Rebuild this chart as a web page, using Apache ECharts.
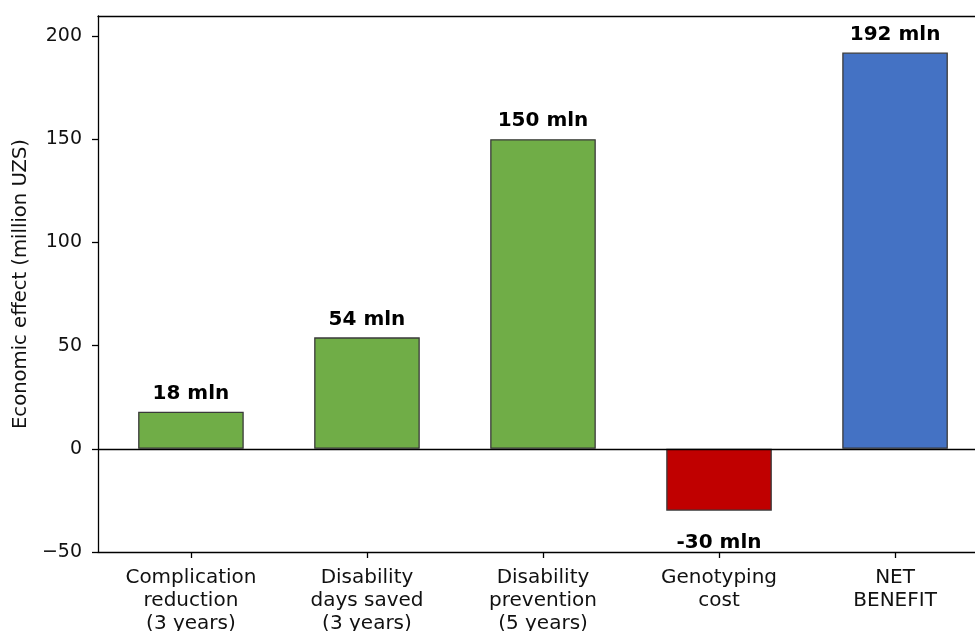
<!DOCTYPE html>
<html>
<head>
<meta charset="utf-8">
<title>Economic effect</title>
<script src="https://cdn.jsdelivr.net/npm/echarts@6/dist/echarts.min.js"></script>
<style>
    html, body { margin: 0; padding: 0; background: #fff; }
    #main { width: 975px; height: 631px; }
</style>
</head>
<body>
<div id="main"></div>
<script>
'use strict';
// 数据
var categories = [
    'Complication\nreduction\n(3 years)',
    'Disability\ndays saved\n(3 years)',
    'Disability\nprevention\n(5 years)',
    'Genotyping\ncost',
    'NET\nBENEFIT'
];
var values = [18, 54, 150, -30, 192];
var barColors = ['#70ad47', '#70ad47', '#70ad47', '#c00000', '#4472c4'];
var yTicks = [-50, 0, 50, 100, 150, 200];
var xTicks = [0, 1, 2, 3, 4];

var font = 'DejaVu Sans';

function buildData() {
    var out = [];
    for (var i = 0; i < values.length; i++) {
        var neg = values[i] < 0;
        out.push({
            value: [i, values[i]],
            itemStyle: { color: barColors[i] },
            label: {
                position: neg ? 'bottom' : 'top',
                distance: neg ? 22 : 8
            }
        });
    }
    return out;
}

var chart = echarts.init(document.getElementById('main'), null, { renderer: 'canvas' });

var option = {
    animation: false,
    // v6 默认会收缩 grid 以容纳标签，这里关掉
    grid: { left: 98, top: 16, width: 890, height: 536, containLabel: false, outerBoundsMode: 'none' },
    xAxis: [{
        type: 'value',
        min: -0.528,
        max: 4.528,
        position: 'bottom',
        axisLine: { onZero: false, lineStyle: { color: '#000', width: 1.3 } },
        axisTick: { show: true, customValues: xTicks, length: 6, lineStyle: { color: '#000', width: 1.3 } },
        axisLabel: {
            customValues: xTicks,
            margin: 14,
            color: '#111',
            fontFamily: font,
            fontSize: 20,
            lineHeight: 23,
            formatter: function(v) { return categories[Math.round(v)] || ''; }
        },
        splitLine: { show: false }
    }, {
        // 上边框
        type: 'value',
        min: -0.528,
        max: 4.528,
        position: 'top',
        axisLine: { onZero: false, lineStyle: { color: '#000', width: 1.3 } },
        axisTick: { show: false },
        axisLabel: { show: false },
        splitLine: { show: false }
    }],
    yAxis: {
        type: 'value',
        min: -50,
        max: 209.7,
        name: 'Economic effect (million UZS)',
        nameLocation: 'middle',
        nameGap: 67,
        nameTextStyle: { color: '#111', fontFamily: font, fontSize: 19.6 },
        axisLine: { show: true, onZero: false, lineStyle: { color: '#000', width: 1.3 } },
        axisTick: { show: true, customValues: yTicks, length: 6, lineStyle: { color: '#000', width: 1.3 } },
        axisLabel: {
            customValues: yTicks,
            margin: 16,
            color: '#111',
            fontFamily: font,
            fontSize: 19,
            formatter: function(v) { return String(v).replace('-', '\u2212'); }
        },
        splitLine: { show: false }
    },
    series: [{
        type: 'bar',
        barWidth: 105.6,
        data: buildData(),
        itemStyle: { borderColor: '#3a3a3a', borderWidth: 1.3 },
        label: {
            show: true,
            color: '#000',
            fontFamily: font,
            fontWeight: 'bold',
            fontSize: 20,
            formatter: function(p) { return p.value[1] + ' mln'; }
        },
        markLine: {
            silent: true,
            symbol: 'none',
            label: { show: false },
            lineStyle: { color: '#000', width: 1.3, type: 'solid' },
            data: [{ yAxis: 0 }]
        }
    }]
};

chart.setOption(option);
</script>
</body>
</html>
